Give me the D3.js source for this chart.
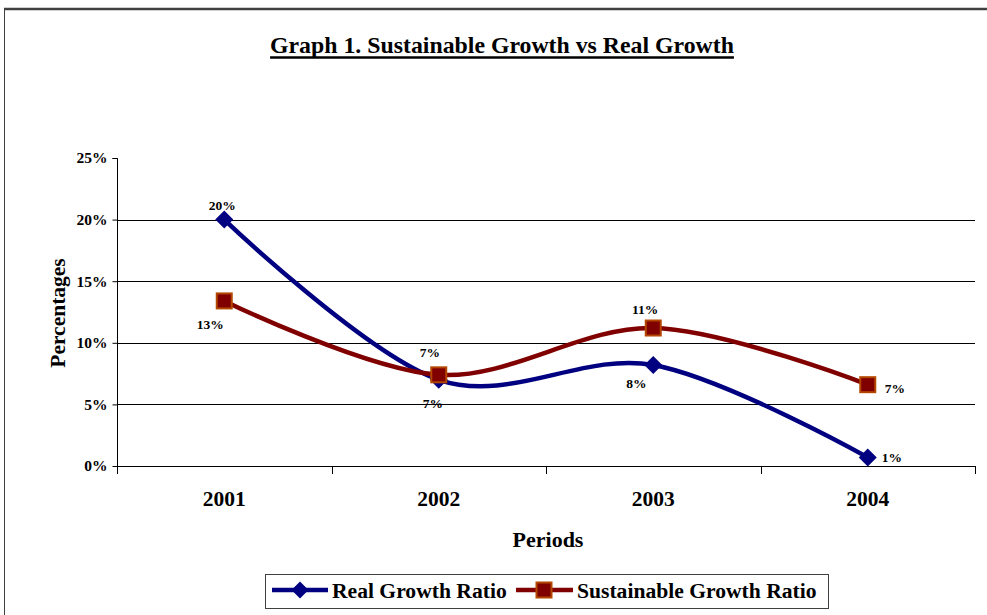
<!DOCTYPE html>
<html><head><meta charset="utf-8">
<script src="https://cdn.jsdelivr.net/npm/d3@7"></script>
<style>body{margin:0;background:#fff}svg{display:block}text{font-family:"Liberation Serif","Times New Roman",serif;font-weight:bold}</style>
</head><body><svg id="c" width="987" height="615"></svg>
<script>
const categories = ["2001","2002","2003","2004"];
const realGrowth = [0.200, 0.070, 0.082, 0.007];
const sustainableGrowth = [0.134, 0.074, 0.112, 0.066];
const yTicks = [0, 0.05, 0.10, 0.15, 0.20, 0.25];
const realLabels = ["20%","7%","8%","1%"];
const sustLabels = ["13%","7%","11%","7%"];

const svg = d3.select("#c");
const L = 117, R = 975, T = 158, B = 466;
const x = d3.scaleBand().domain(categories).range([L, R]);
const y = d3.scaleLinear().domain([0, 0.25]).range([B, T]);
const cx = d => x(d) + x.bandwidth()/2;

// frame
svg.append("line").attr("x1",4).attr("x2",987).attr("y1",9).attr("y2",9).attr("stroke","#404040").attr("stroke-width",2.5);
svg.append("line").attr("x1",4.5).attr("x2",4.5).attr("y1",9).attr("y2",615).attr("stroke","#404040").attr("stroke-width",1);

// title
const title = svg.append("text").attr("x",502).attr("y",53).attr("text-anchor","middle").attr("font-size",23.8)
  .text("Graph 1. Sustainable Growth vs Real Growth");
const tw = title.node().getComputedTextLength();
svg.append("line").attr("x1",502 - tw/2).attr("x2",502 + tw/2).attr("y1",57.5).attr("y2",57.5).attr("stroke","#000").attr("stroke-width",2.5);

// gridlines
svg.append("g").selectAll("line").data(yTicks.filter(t => t > 0 && t < 0.25)).join("line")
  .attr("x1",L).attr("x2",R).attr("y1",d=>Math.round(y(d))+0.5).attr("y2",d=>Math.round(y(d))+0.5)
  .attr("stroke","#000").attr("stroke-width",1);

// y axis
const ya = svg.append("g").attr("transform",`translate(${L+0.5},0)`)
  .call(d3.axisLeft(y).tickValues(yTicks).tickFormat(d3.format(".0%")).tickSize(5).tickPadding(5));
ya.select(".domain").attr("stroke","#000").attr("d",`M-5,${T+0.5}H0V${B+0.5}`);
ya.selectAll("text").attr("font-size",15.5).attr("font-family","Liberation Serif").attr("font-weight","bold").attr("fill","#000");
ya.selectAll(".tick line").attr("stroke","#000");

// x axis
const boundaries = categories.map(c => x(c)).concat([R]);
svg.append("line").attr("x1",L).attr("x2",R).attr("y1",B+0.5).attr("y2",B+0.5).attr("stroke","#000");
svg.append("g").selectAll("line").data(boundaries).join("line")
  .attr("x1",d=>Math.round(d)+0.5).attr("x2",d=>Math.round(d)+0.5).attr("y1",B).attr("y2",B+8).attr("stroke","#000");
svg.append("g").selectAll("text").data(categories).join("text")
  .attr("x",cx).attr("y",506).attr("text-anchor","middle").attr("font-size",21.5).text(d=>d);

// axis titles
svg.append("text").attr("x",548).attr("y",547).attr("text-anchor","middle").attr("font-size",22).text("Periods");
svg.append("text").attr("transform","translate(65,313) rotate(-90)").attr("text-anchor","middle").attr("font-size",21.5).text("Percentages");

const line = d3.line().x((d,i)=>cx(categories[i])).y(d=>y(d)).curve(d3.curveCardinal.tension(0));
const navy = "#000080", maroon = "#800000", mborder = "#B34700";
const diamond = (px,py,r) => `M${px},${py-r}L${px+r},${py}L${px},${py+r}L${px-r},${py}Z`;

svg.append("path").attr("d",line(realGrowth)).attr("fill","none").attr("stroke",navy).attr("stroke-width",4.5);
svg.append("g").selectAll("path").data(realGrowth).join("path")
  .attr("d",(d,i)=>diamond(cx(categories[i]), y(d), 9)).attr("fill",navy);
svg.append("path").attr("d",line(sustainableGrowth)).attr("fill","none").attr("stroke",maroon).attr("stroke-width",4.5);
svg.append("g").selectAll("rect").data(sustainableGrowth).join("rect")
  .attr("x",(d,i)=>cx(categories[i])-7.5).attr("y",d=>y(d)-7.5).attr("width",15).attr("height",15)
  .attr("fill",maroon).attr("stroke",mborder).attr("stroke-width",2);

// data labels
const realOff = [[-2,-10,"middle"],[-6,28,"middle"],[-17,23,"middle"],[14,5,"start"]];
const sustOff = [[-14,28,"middle"],[-9,-18,"middle"],[-8,-14,"middle"],[17,8,"start"]];
svg.append("g").selectAll("text").data(realGrowth).join("text")
  .attr("x",(d,i)=>cx(categories[i])+realOff[i][0]).attr("y",(d,i)=>y(d)+realOff[i][1])
  .attr("text-anchor",(d,i)=>realOff[i][2]).attr("font-size",13.5).text((d,i)=>realLabels[i]);
svg.append("g").selectAll("text").data(sustainableGrowth).join("text")
  .attr("x",(d,i)=>cx(categories[i])+sustOff[i][0]).attr("y",(d,i)=>y(d)+sustOff[i][1])
  .attr("text-anchor",(d,i)=>sustOff[i][2]).attr("font-size",13.5).text((d,i)=>sustLabels[i]);

// legend
const lg = svg.append("g");
lg.append("rect").attr("x",265.5).attr("y",574.5).attr("width",563).attr("height",34).attr("fill","#fff").attr("stroke","#404040").attr("stroke-width",1);
lg.append("line").attr("x1",272).attr("x2",328).attr("y1",590).attr("y2",590).attr("stroke",navy).attr("stroke-width",4.5);
lg.append("path").attr("d",diamond(300,590,8.5)).attr("fill",navy);
lg.append("text").attr("x",332).attr("y",598).attr("font-size",21.6).text("Real Growth Ratio");
lg.append("line").attr("x1",516).attr("x2",573).attr("y1",590).attr("y2",590).attr("stroke",maroon).attr("stroke-width",4.5);
lg.append("rect").attr("x",536.5).attr("y",582.5).attr("width",15).attr("height",15).attr("fill",maroon).attr("stroke",mborder).attr("stroke-width",2);
lg.append("text").attr("x",577).attr("y",598).attr("font-size",21.6).text("Sustainable Growth Ratio");
</script></body></html>
